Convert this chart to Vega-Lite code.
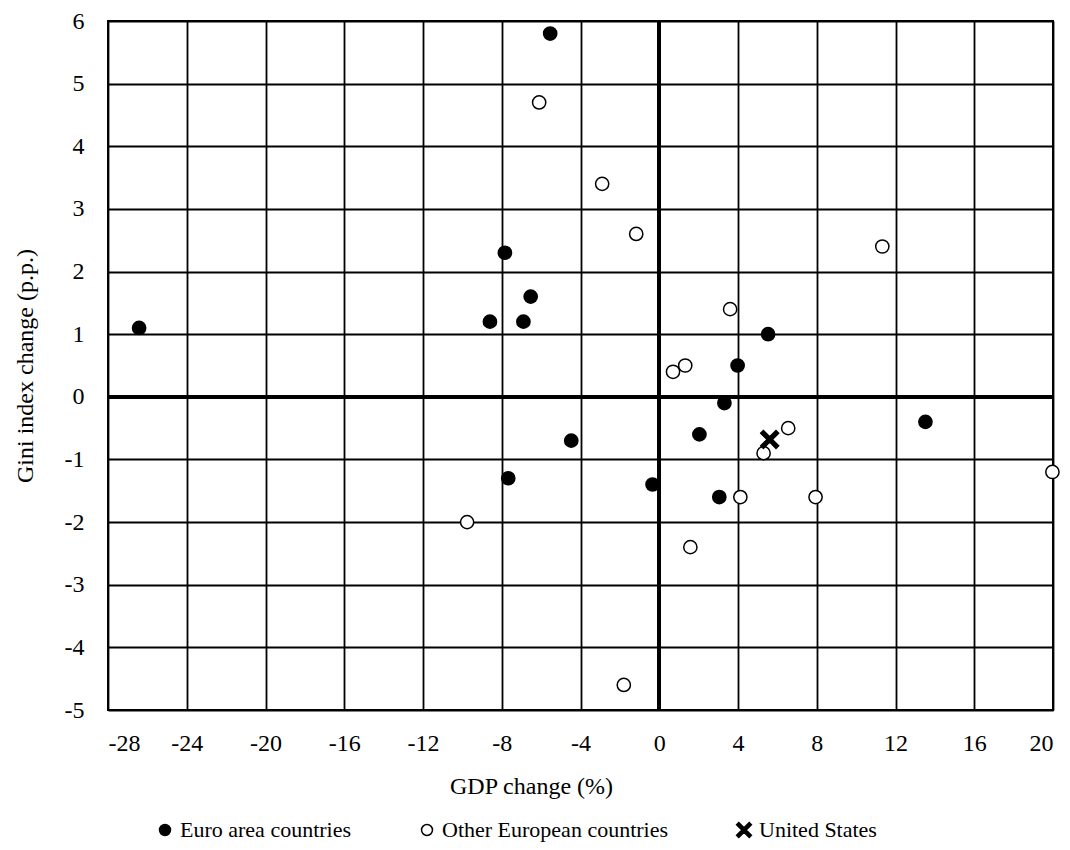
{
  "$schema": "https://vega.github.io/schema/vega-lite/v6.json",
  "width": 945,
  "height": 689,
  "autosize": {"type": "none"},
  "padding": {"left": 108, "top": 21, "right": 17, "bottom": 140},
  "background": "white",
  "config": {
    "font": "Liberation Serif",
    "view": {"stroke": "black", "strokeWidth": 2},
    "axis": {
      "grid": true,
      "gridColor": "black",
      "gridWidth": 1.8,
      "gridOpacity": 1,
      "domain": false,
      "ticks": false,
      "labelFont": "Liberation Serif",
      "labelFontSize": 24,
      "labelColor": "black",
      "titleFont": "Liberation Serif",
      "titleFontSize": 24,
      "titleFontWeight": "normal",
      "titleColor": "black"
    },
    "legend": {"labelFont": "Liberation Serif"}
  },
  "data": {
    "values": [
      {"x": -26.42, "y": 1.1, "group": "Euro area countries"},
      {"x": -5.54, "y": 5.8, "group": "Euro area countries"},
      {"x": -7.84, "y": 2.3, "group": "Euro area countries"},
      {"x": -6.53, "y": 1.6, "group": "Euro area countries"},
      {"x": -8.6, "y": 1.2, "group": "Euro area countries"},
      {"x": -6.9, "y": 1.2, "group": "Euro area countries"},
      {"x": -4.47, "y": -0.7, "group": "Euro area countries"},
      {"x": -7.67, "y": -1.3, "group": "Euro area countries"},
      {"x": -0.34, "y": -1.4, "group": "Euro area countries"},
      {"x": 2.04, "y": -0.6, "group": "Euro area countries"},
      {"x": 3.05, "y": -1.6, "group": "Euro area countries"},
      {"x": 3.31, "y": -0.1, "group": "Euro area countries"},
      {"x": 3.98, "y": 0.5, "group": "Euro area countries"},
      {"x": 5.53, "y": 1.0, "group": "Euro area countries"},
      {"x": 13.52, "y": -0.4, "group": "Euro area countries"},
      {"x": -6.1, "y": 4.7, "group": "Other European countries"},
      {"x": -2.9, "y": 3.4, "group": "Other European countries"},
      {"x": -1.17, "y": 2.6, "group": "Other European countries"},
      {"x": 11.33, "y": 2.4, "group": "Other European countries"},
      {"x": 3.6, "y": 1.4, "group": "Other European countries"},
      {"x": 0.7, "y": 0.4, "group": "Other European countries"},
      {"x": 1.32, "y": 0.5, "group": "Other European countries"},
      {"x": 6.55, "y": -0.5, "group": "Other European countries"},
      {"x": 5.3, "y": -0.9, "group": "Other European countries"},
      {"x": 4.12, "y": -1.6, "group": "Other European countries"},
      {"x": 7.94, "y": -1.6, "group": "Other European countries"},
      {"x": 1.58, "y": -2.4, "group": "Other European countries"},
      {"x": -9.76, "y": -2.0, "group": "Other European countries"},
      {"x": -1.8, "y": -4.6, "group": "Other European countries"},
      {"x": 19.97, "y": -1.2, "group": "Other European countries"},
      {"x": 5.61, "y": -0.68, "group": "United States"}
    ]
  },
  "layer": [
    {
      "mark": {"type": "rule", "color": "black", "strokeWidth": 3.5},
      "encoding": {
        "x": {"datum": 0, "type": "quantitative", "scale": {"domain": [-28, 20], "nice": false, "zero": false}}
      }
    },
    {
      "mark": {"type": "rule", "color": "black", "strokeWidth": 3.5},
      "encoding": {
        "y": {"datum": 0, "type": "quantitative", "scale": {"domain": [-5, 6], "nice": false, "zero": false}}
      }
    },
    {
      "mark": {"type": "point", "filled": true, "strokeWidth": 1.5, "opacity": 1, "size": 175},
      "encoding": {
        "x": {
          "field": "x",
          "type": "quantitative",
          "scale": {"domain": [-28, 20], "nice": false, "zero": false},
          "axis": {
            "values": [-28, -24, -20, -16, -12, -8, -4, 0, 4, 8, 12, 16, 20],
            "labelExpr": "'' + datum.value",
            "labelFont": "Liberation Serif",
            "labelFontSize": 24,
            "labelPadding": 21,
            "title": "GDP change (%)",
            "titleBaseline": "top",
            "titleAnchor": "start",
            "titleAlign": "center",
            "titleX": 423,
            "titleY": 64
          }
        },
        "y": {
          "field": "y",
          "type": "quantitative",
          "scale": {"domain": [-5, 6], "nice": false, "zero": false},
          "axis": {
            "values": [-5, -4, -3, -2, -1, 0, 1, 2, 3, 4, 5, 6],
            "labelExpr": "'' + datum.value",
            "labelFont": "Liberation Serif",
            "labelFontSize": 24,
            "labelPadding": 24,
            "title": "Gini index change (p.p.)",
            "titleBaseline": "alphabetic",
            "titleX": -76
          }
        },
        "shape": {
          "field": "group",
          "type": "nominal",
          "scale": {
            "domain": ["Euro area countries", "Other European countries", "United States"],
            "range": ["circle", "circle", "M-1.35,-0.95L-0.95,-1.35L0,-0.4L0.95,-1.35L1.35,-0.95L0.4,0L1.35,0.95L0.95,1.35L0,0.4L-0.95,1.35L-1.35,0.95L-0.4,0Z"]
          },
          "legend": {
            "title": null,
            "orient": "none",
            "direction": "horizontal",
            "columns": 3,
            "legendX": 46,
            "legendY": 798,
            "labelFont": "Liberation Serif",
            "labelFontSize": 22,
            "labelColor": "black",
            "labelOffset": 4,
            "symbolSize": 120,
            "symbolStrokeWidth": 1.5,
            "columnPadding": 64,
            "labelLimit": 400
          }
        },
        "fill": {
          "field": "group",
          "type": "nominal",
          "scale": {
            "domain": ["Euro area countries", "Other European countries", "United States"],
            "range": ["black", "white", "black"]
          },
          "legend": {
            "title": null,
            "orient": "none",
            "direction": "horizontal",
            "columns": 3,
            "legendX": 46,
            "legendY": 798,
            "labelFont": "Liberation Serif",
            "labelFontSize": 22,
            "labelColor": "black",
            "labelOffset": 4,
            "symbolSize": 120,
            "symbolStrokeWidth": 1.5,
            "columnPadding": 64,
            "labelLimit": 400
          }
        },
        "stroke": {
          "field": "group",
          "type": "nominal",
          "scale": {
            "domain": ["Euro area countries", "Other European countries", "United States"],
            "range": ["black", "black", "black"]
          },
          "legend": {
            "title": null,
            "orient": "none",
            "direction": "horizontal",
            "columns": 3,
            "legendX": 46,
            "legendY": 798,
            "labelFont": "Liberation Serif",
            "labelFontSize": 22,
            "labelColor": "black",
            "labelOffset": 4,
            "symbolSize": 120,
            "symbolStrokeWidth": 1.5,
            "columnPadding": 64,
            "labelLimit": 400
          }
        }
      }
    }
  ]
}
